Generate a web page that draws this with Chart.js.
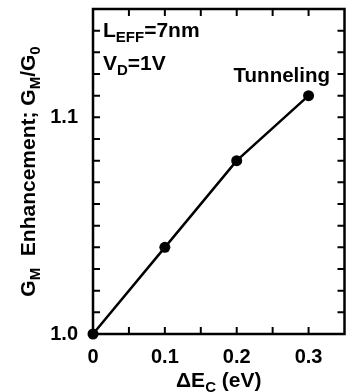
<!DOCTYPE html>
<html>
<head>
<meta charset="utf-8">
<script src="https://cdn.jsdelivr.net/npm/chart.js@4.4.1/dist/chart.umd.min.js"></script>
<style>
html, body { margin: 0; padding: 0; background: #fff; }
#wrap { width: 350px; height: 392px; }
</style>
</head>
<body>
<div id="wrap"><canvas id="gmChart"></canvas></div>
<script>
// data
const deltaEc = [0, 0.1, 0.2, 0.3];
const gmRatio = [1.0, 1.04, 1.08, 1.11];
const xLabeledTicks = [0, 0.1, 0.2, 0.3];
const yLabeledTicks = [1.0, 1.1];

const FONT = "'Liberation Sans', Arial, Helvetica, sans-serif";

function isLabeled(v, list) {
    return list.some((t) => Math.abs(t - v) < 1e-6);
}

// draws text with subscript parts: [text, isSub]
function drawRich(ctx, parts, x, y, align, size) {
    const big = "bold " + size + "px " + FONT;
    const small = "bold " + Math.round(size * 0.7) + "px " + FONT;
    let w = 0;
    parts.forEach((p) => {
        ctx.font = p[1] ? small : big;
        w += ctx.measureText(p[0]).width;
    });
    let cx = align === "center" ? x - w / 2 : align === "right" ? x - w : x;
    ctx.textAlign = "left";
    ctx.textBaseline = "alphabetic";
    parts.forEach((p) => {
        ctx.font = p[1] ? small : big;
        ctx.fillText(p[0], cx, p[1] ? y + 5 : y);
        cx += ctx.measureText(p[0]).width;
    });
}

const frameTicks = {
    id: "frameTicks",
    beforeDatasetsDraw(chart) {
        const { ctx, chartArea: a, scales } = chart;
        const x = scales.x, y = scales.y;
        ctx.save();
        ctx.strokeStyle = "#000";
        ctx.lineWidth = 2;
        ctx.beginPath();
        x.ticks.forEach((t) => {
            const px = x.getPixelForValue(t.value);
            if (px <= a.left + 1 || px >= a.right - 1) return;
            ctx.moveTo(px, a.bottom);
            ctx.lineTo(px, a.bottom - 7);
            ctx.moveTo(px, a.top);
            ctx.lineTo(px, a.top + 7);
        });
        y.ticks.forEach((t) => {
            const py = y.getPixelForValue(t.value);
            if (py <= a.top + 1 || py >= a.bottom - 1) return;
            ctx.moveTo(a.left, py);
            ctx.lineTo(a.left + 7, py);
            ctx.moveTo(a.right, py);
            ctx.lineTo(a.right - 7, py);
        });
        ctx.stroke();
        ctx.lineWidth = 2.5;
        ctx.strokeRect(a.left, a.top, a.right - a.left, a.bottom - a.top);
        ctx.restore();
    },
    afterDraw(chart) {
        const { ctx, chartArea: a } = chart;
        ctx.save();
        ctx.fillStyle = "#000";
        drawRich(ctx, [["L", 0], ["EFF", 1], ["=7nm", 0]], a.left + 10, 37, "left", 21);
        drawRich(ctx, [["V", 0], ["D", 1], ["=1V", 0]], a.left + 10, 70, "left", 21);
        drawRich(ctx, [["Tunneling", 0]], 330, 82, "right", 20.5);
        drawRich(ctx, [["\u0394E", 0], ["C", 1], [" (eV)", 0]], (a.left + a.right) / 2, 387, "center", 21);
        ctx.translate(35, (a.top + a.bottom) / 2);
        ctx.rotate(-Math.PI / 2);
        drawRich(ctx, [["G", 0], ["M", 1], ["  Enhancement; G", 0], ["M", 1], ["/G", 0], ["0", 1]], 0, 0, "center", 21);
        ctx.restore();
    },
};

const ctx = document.getElementById("gmChart");

new Chart(ctx, {
    type: "line",
    data: {
        labels: deltaEc,
        datasets: [
            {
                data: deltaEc.map((v, i) => ({ x: v, y: gmRatio[i] })),
                borderColor: "#000",
                backgroundColor: "#000",
                borderWidth: 2.5,
                pointRadius: 5.5,
                pointBackgroundColor: "#000",
                pointBorderWidth: 0,
                tension: 0,
                clip: false,
            },
        ],
    },
    options: {
        responsive: true,
        maintainAspectRatio: false,
        animation: false,
        layout: { padding: { top: 9, right: 5, left: 0, bottom: 0 } },
        plugins: { legend: { display: false }, tooltip: { enabled: false } },
        scales: {
            x: {
                type: "linear",
                min: 0,
                max: 0.35,
                grid: { display: false },
                border: { display: false },
                ticks: {
                    stepSize: 0.05,
                    autoSkip: false,
                    maxRotation: 0,
                    padding: 3,
                    color: "#000",
                    font: { family: FONT, size: 20, weight: "bold" },
                    callback: (v) => (isLabeled(v, xLabeledTicks) ? (Math.abs(v) < 1e-6 ? "0" : v.toFixed(1)) : ""),
                },
                afterFit: (s) => {
                    s.height = 58;
                    s.paddingLeft = 0;
                    s.paddingRight = 0;
                },
            },
            y: {
                type: "linear",
                min: 1.0,
                max: 1.15,
                grid: { display: false },
                border: { display: false },
                ticks: {
                    stepSize: 0.01,
                    autoSkip: false,
                    padding: 7,
                    color: "#000",
                    font: { family: FONT, size: 20, weight: "bold" },
                    callback: (v) => (isLabeled(v, yLabeledTicks) ? v.toFixed(1) : ""),
                },
                afterFit: (s) => {
                    s.width = 93;
                    s.paddingTop = 0;
                    s.paddingBottom = 0;
                },
            },
        },
    },
    plugins: [frameTicks],
});
</script>
</body>
</html>
